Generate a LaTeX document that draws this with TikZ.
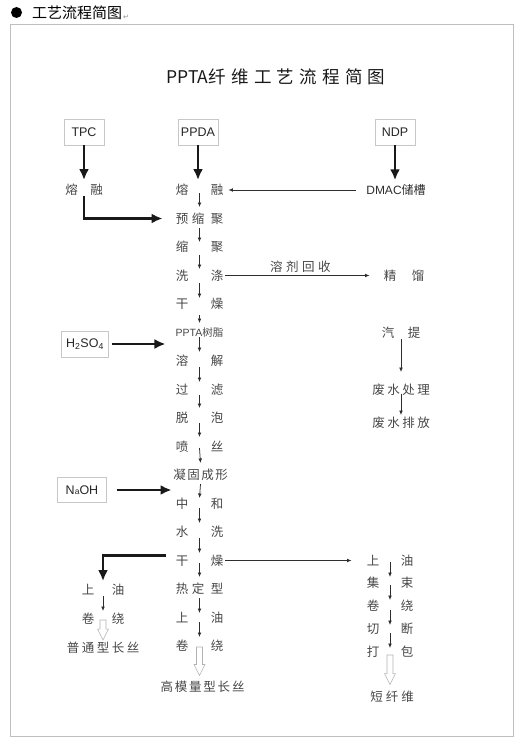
\documentclass[tikz,border=0pt]{standalone}
\usepackage{fontspec}
\setmainfont{Liberation Sans}
\newfontfamily\cjk{Noto Sans CJK SC}
\newfontfamily\titlecjk[LetterSpace=30]{Noto Sans CJK SC}
\newfontfamily\glyphfont{DejaVu Sans}
\usetikzlibrary{arrows.meta,calc,positioning}

\begin{document}
\begin{tikzpicture}[
  x=1pt, y=-1pt,
  every node/.style={inner sep=0pt},
  stage/.style={font=\cjk\fontsize{12.5}{12.5}\selectfont, text=black!72},
  source/.style={draw=black!22, minimum width=40pt, minimum height=26pt,
    font=\fontsize{12.5}{13}\selectfont, text=black!85},
  feed/.style={draw=black!90, line width=2.3pt, -{Latex[length=11pt,width=10pt]}},
  flow/.style={draw=black!82, line width=0.75pt, -{Latex[length=4.5pt,width=3.8pt]}},
  hollow/.style={draw=black!30, line width=0.6pt, to path={let \p1=(\tikztostart), \p2=(\tikztotarget) in
    (\x1-3pt,\y1) -- (\x1-3pt,\y2+11pt) -- (\x1-5.5pt,\y2+11pt) -- (\x1,\y2)
    -- (\x1+5.5pt,\y2+11pt) -- (\x1+3pt,\y2+11pt) -- (\x1+3pt,\y1) -- cycle}}
  ]
\useasboundingbox (0,0) rectangle (522,749);

\fill[black] (16.5,12.5) circle (5.5pt);
\node[anchor=west, font=\cjk\fontsize{15}{15}\selectfont] (head) at (32,12.5) {工艺流程简图};
\node[right=0.5pt of head.south east, anchor=south west, font=\glyphfont\fontsize{7}{7}\selectfont, text=black!45] (ret) {↵};
\draw[black!25, line width=0.8pt] (10,24) rectangle (513,736);

\node[font=\fontsize{17.5}{17.5}\selectfont, text=black!90] (title) at (276,77) {{\cjk PPTA}{\titlecjk 纤维工艺流程简图}};

\node[source] (tpc) at (84,132) {TPC};
\node[source] (ppda) at (198,132) {PPDA};
\node[source] (ndp) at (395,132) {NDP};
\node[source, minimum width=47pt] (h2so4) at (85,344) {H\textsubscript{2}SO\textsubscript{4}};
\node[source, minimum width=49pt, minimum height=25pt] (naoh) at (82,490) {N{\fontsize{8.5}{8.5}\selectfont a}OH};

\node[stage] (lmelt) at (84,190) {熔\hspace{12.5pt}融};
\node[stage] (melt) at (199.5,190) {熔\hspace{22.5pt}融};
\node[stage] (prepoly) at (199.5,218.5) {预\hspace{3.5pt}缩\hspace{6.5pt}聚};
\node[stage] (poly) at (199.5,247) {缩\hspace{22.5pt}聚};
\node[stage] (wash) at (199.5,275.5) {洗\hspace{22.5pt}涤};
\node[stage] (dry) at (199.5,304) {干\hspace{22.5pt}燥};
\node[stage, font=\fontsize{10.5}{10.5}\selectfont] (resin) at (199.5,332.5) {PPTA{\cjk 树脂}};
\node[stage] (dissolve) at (199.5,361) {溶\hspace{22.5pt}解};
\node[stage] (filter) at (199.5,389.5) {过\hspace{22.5pt}滤};
\node[stage] (degas) at (199.5,418) {脱\hspace{22.5pt}泡};
\node[stage] (spin) at (199.5,446.5) {喷\hspace{22.5pt}丝};
\node[stage] (coag) at (200.5,475) {凝\hspace{1.5pt}固\hspace{1.5pt}成\hspace{1.5pt}形};
\node[stage] (neutral) at (199.5,503.5) {中\hspace{22.5pt}和};
\node[stage] (rinse) at (199.5,532) {水\hspace{22.5pt}洗};
\node[stage] (dry2) at (199.5,560.5) {干\hspace{22.5pt}燥};
\node[stage] (heatset) at (199.5,589) {热\hspace{3.5pt}定\hspace{6.5pt}型};
\node[stage] (oil) at (199.5,617.5) {上\hspace{22.5pt}油};
\node[stage] (wind) at (199.5,646) {卷\hspace{22.5pt}绕};
\node[stage] (hmfiber) at (202.5,687) {高\hspace{1.8pt}模\hspace{1.8pt}量\hspace{1.8pt}型\hspace{1.8pt}长\hspace{1.8pt}丝};

\node[stage, font=\fontsize{12}{12}\selectfont, text=black!82, inner xsep=0pt] (dmac) at (396,190) {DMAC{\cjk 储槽}};
\node[stage] (distill) at (404,275.5) {精\hspace{15.5pt}馏};
\node[stage] (steam) at (401,333) {汽\hspace{13.5pt}提};
\node[stage] (wwtreat) at (401,390) {废\hspace{2.5pt}水\hspace{2.5pt}处\hspace{2.5pt}理};
\node[stage] (wwdrain) at (401,423) {废\hspace{2.5pt}水\hspace{2.5pt}排\hspace{2.5pt}放};

\node[stage] (loil) at (103,590) {上\hspace{17.5pt}油};
\node[stage] (lwind) at (103,619) {卷\hspace{17.5pt}绕};
\node[stage] (common) at (103,648) {普\hspace{2.5pt}通\hspace{2.5pt}型\hspace{2.5pt}长\hspace{2.5pt}丝};

\node[stage] (roil) at (390,560.5) {上\hspace{21.5pt}油};
\node[stage] (bundle) at (390,583) {集\hspace{21.5pt}束};
\node[stage] (rwind) at (390,605.5) {卷\hspace{21.5pt}绕};
\node[stage] (cut) at (390,628.5) {切\hspace{21.5pt}断};
\node[stage] (pack) at (390,652) {打\hspace{21.5pt}包};
\node[stage] (staple) at (392,697) {短\hspace{3pt}纤\hspace{3pt}维};

\draw[feed] (tpc) -- ([yshift=4pt]tpc |- lmelt.north);
\draw[feed] (ppda) -- ([yshift=4pt]ppda |- melt.north);
\draw[feed] (ndp) -- ([yshift=4pt]ndp |- dmac.north);
\draw[feed] (lmelt.south) |- ([xshift=-13pt]prepoly.west);
\draw[feed, shorten <=3pt] (h2so4.east) -- ([xshift=-10pt]resin.west |- h2so4.east);
\draw[feed, shorten <=10pt] (naoh.east) -- ([xshift=-4pt]neutral.west |- naoh.east);
\draw[feed] ([xshift=-10pt,yshift=5pt]dry2.west) -| ([yshift=3pt]loil.north);

\draw[flow] ([xshift=-10pt]dmac.west) -- ([xshift=5pt]melt.east);
\draw[flow] ([xshift=2pt]wash.east) -- ([xshift=-14pt]distill.west)
  node[stage, pos=.52, above=3pt] (recovery) {溶\hspace{3.5pt}剂\hspace{3.5pt}回\hspace{3.5pt}收};
\draw[flow] ([xshift=2pt]dry2.east) -- ([xshift=-15pt]roil.west);
\draw[flow] (steam.south) -- ([yshift=12pt]wwtreat.north);
\draw[flow] ([yshift=-4pt]wwtreat.center) -- ([yshift=2pt]wwdrain.north);

\foreach \a/\s/\b/\e in {melt/-3pt/prepoly/11.5pt, prepoly/-9.5pt/poly/5pt, poly/-8pt/wash/6.5pt,
    wash/-7.5pt/dry/6pt, dry/-11pt/resin/9.5pt, resin/-4.5pt/dissolve/9pt, dissolve/-6pt/filter/7.5pt,
    filter/-5.5pt/degas/10pt, degas/-5pt/spin/9.5pt, spin/-1.5pt/coag/12pt, coag/-9pt/neutral/5.5pt,
    neutral/-4.5pt/rinse/9pt, rinse/-6pt/dry2/7.5pt, dry2/-2.5pt/heatset/12pt, heatset/-9pt/oil/4.5pt,
    oil/-4.5pt/wind/9pt, roil/-1.5pt/bundle/6pt, bundle/-2pt/rwind/5.5pt, rwind/-4.5pt/cut/3.5pt,
    cut/-4.5pt/pack/4pt}
  \draw[flow] ([yshift=\s]\a.center) -- ([yshift=\e]\b.center);
\draw[flow] ([yshift=-6pt]loil.center) -- ([yshift=8pt]lwind.center);

\draw[hollow] ([yshift=-1pt]lwind.center) to ([yshift=2pt]common.north);
\draw[hollow] ([yshift=-1pt]wind.center) to ([yshift=5.5pt]hmfiber.north);
\draw[hollow] ([yshift=-3pt]pack.center) to ([yshift=6.5pt]staple.north);
\end{tikzpicture}
\end{document}
